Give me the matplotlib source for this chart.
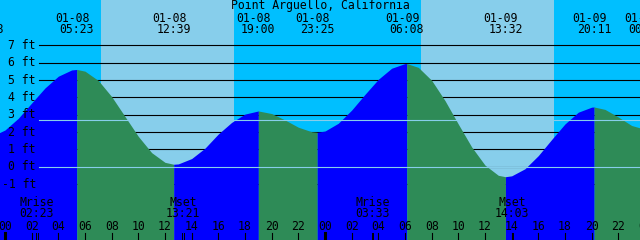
import matplotlib
matplotlib.use("Agg")
import matplotlib.pyplot as plt

# ---------------------------------------------------------
# data
# ---------------------------------------------------------
title = "Point Arguello, California"

# tide extremes: date, time, height (ft)
ext_date = ["01-07", "01-08", "01-08", "01-08", "01-08",
            "01-09", "01-09", "01-09", "01-10"]
ext_time = ["22:38", "05:23", "12:39", "19:00", "23:25",
            "06:08", "13:32", "20:11", "00:03"]
ext_ft = [1.71, 5.61, 0.13, 3.21, 1.98, 5.95, -0.59, 3.44, 2.15]

# water level at each full hour, hour 0 = 01-08 00:00
hours = list(range(-1, 49))
level_ft = [1.74, 2.11, 2.79, 3.67, 4.54, 5.22, 5.58,
            5.51, 4.97, 4.04, 2.89, 1.74, 0.80, 0.24,
            0.15, 0.46, 1.06, 1.88, 2.55, 3.03, 3.21,
            3.06, 2.69, 2.27, 2.01,
            2.05, 2.50, 3.26, 4.17, 5.04, 5.68, 5.95,
            5.73, 4.98, 3.81, 2.45, 1.13, 0.08, -0.51,
            -0.54, -0.13, 0.63, 1.56, 2.46, 3.14, 3.43,
            3.30, 2.86, 2.37, 2.15]

sun_date = ["01-08", "01-09"]
sunrise = ["07:12", "07:12"]
sunset = ["17:10", "17:11"]

moon_name = ["Mrise", "Mset", "Mrise", "Mset"]
moon_date = ["01-08", "01-08", "01-09", "01-09"]
moon_time = ["02:23", "13:21", "03:33", "14:03"]

ft_ticks = [7, 6, 5, 4, 3, 2, 1, 0, -1]
mean_level_ft = 2.66
hour_ticks = list(range(0, 50, 2))

# ---------------------------------------------------------
# helpers
# ---------------------------------------------------------
W, H = 640, 240
X0 = 5.0        # pixel of 01-08 00:00
PX_HR = 13.333
Y0 = 166.5      # pixel of 0 ft
FT_PX = 17.3

NIGHT = "#00bfff"
DAY = "#87ceeb"
RISE = "#0000ff"
FALL = "#2e8b57"
FONT = dict(family="DejaVu Sans Mono", size=8.3)


def to_hours(date, hhmm):
    day = int(date[3:]) - 8
    h, m = map(int, hhmm.split(":"))
    return 24 * day + h + m / 60


def hx(xpx):
    return (xpx - X0) / PX_HR


def py(ypx):
    return (Y0 - ypx) / FT_PX


ext_h = [to_hours(d, t) for d, t in zip(ext_date, ext_time)]

# merge hourly readings with the extremes
pts = sorted(list(zip(hours, level_ft)) + list(zip(ext_h, ext_ft)))

# ---------------------------------------------------------
# figure
# ---------------------------------------------------------
fig = plt.figure(figsize=(6.4, 2.4), dpi=100, facecolor=NIGHT)
ax = fig.add_axes([0, 0, 1, 1])
ax.set_xlim(hx(0), hx(W))
ax.set_ylim(py(H), py(0))
ax.axis("off")

# daylight
for d, r, s in zip(sun_date, sunrise, sunset):
    ax.axvspan(to_hours(d, r), to_hours(d, s), color=DAY, lw=0, zorder=0)

# foot grid (hidden under water)
for ft in ft_ticks:
    ax.plot([hx(39), hx(W)], [ft, ft], color="black", lw=0.8, zorder=1)

# water, blue while rising, green while falling
bottom = py(H + 5)
for i in range(len(ext_h) - 1):
    t0, t1 = ext_h[i], ext_h[i + 1]
    seg = [(t, v) for t, v in pts if t0 <= t <= t1]
    if i == 0:
        seg = [(t, v) for t, v in pts if t <= t1]
    ts = [p[0] for p in seg]
    vs = [p[1] for p in seg]
    color = RISE if ext_ft[i + 1] > ext_ft[i] else FALL
    ax.fill_between(ts, vs, bottom, color=color, lw=0,
                    antialiased=False, zorder=2)

# datum and mean level lines
for lvl in [0, mean_level_ft]:
    ax.plot([hx(39), hx(W)], [lvl, lvl], color=DAY, lw=0.8, zorder=3)

# foot labels
for ft in ft_ticks:
    ax.text(hx(36), ft - 3.8 / FT_PX, f"{ft} ft", ha="right",
            va="baseline", zorder=4, **FONT)

# title and extreme labels
ax.text(hx(320), py(9.5), title, ha="center", va="baseline", zorder=4, **FONT)
for h, d, t in zip(ext_h, ext_date, ext_time):
    ax.text(h - 4.5 / PX_HR, py(21.7), d, ha="center", va="baseline",
            zorder=4, **FONT)
    ax.text(h, py(33.3), t, ha="center", va="baseline", zorder=4, **FONT)

# moon events
for name, d, t in zip(moon_name, moon_date, moon_time):
    h = to_hours(d, t)
    ax.text(h, py(206), name, ha="center", va="baseline", zorder=4, **FONT)
    ax.text(h, py(217.3), t, ha="center", va="baseline", zorder=4, **FONT)
    for dx in [-0.8, 0.8]:
        ax.plot([h + dx / PX_HR] * 2, [py(232.5), py(H)], color="black",
                lw=0.7, zorder=4)

# hour axis
for h in hour_ticks:
    lw = 2.2 if h % 24 == 0 else 0.8
    ax.plot([h, h], [py(232.5), py(H)], color="black", lw=lw, zorder=4)
    ax.text(h, py(230), f"{h % 24:02d}", ha="center", va="baseline",
            zorder=4, **FONT)

fig.savefig("out.png", dpi=100, facecolor=NIGHT)
